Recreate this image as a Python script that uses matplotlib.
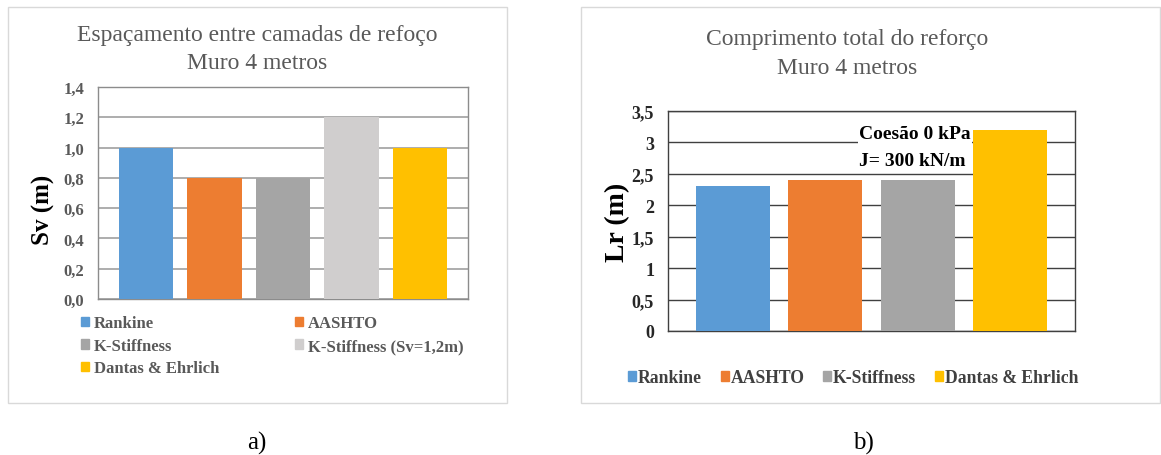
import matplotlib
matplotlib.use("Agg")
import matplotlib.pyplot as plt
from matplotlib.patches import Rectangle, Patch

# ---------------- data ----------------
methods_a = ['Rankine', 'AASHTO', 'K-Stiffness', 'K-Stiffness (Sv=1,2m)', 'Dantas & Ehrlich']
sv_values = [1.0, 0.8, 0.8, 1.2, 1.0]
colors_a = ['#5B9BD5', '#ED7D31', '#A5A5A5', '#D0CECE', '#FFC000']
sv_ticks = [0.0, 0.2, 0.4, 0.6, 0.8, 1.0, 1.2, 1.4]
sv_ticklabels = ['0,0', '0,2', '0,4', '0,6', '0,8', '1,0', '1,2', '1,4']

methods_b = ['Rankine', 'AASHTO', 'K-Stiffness', 'Dantas & Ehrlich']
lr_values = [2.3, 2.4, 2.4, 3.2]
colors_b = ['#5B9BD5', '#ED7D31', '#A5A5A5', '#FFC000']
lr_ticks = [0, 0.5, 1, 1.5, 2, 2.5, 3, 3.5]
lr_ticklabels = ['0', '0,5', '1', '1,5', '2', '2,5', '3', '3,5']

title_a = 'Espaçamento entre camadas de refoço\nMuro 4 metros'
title_b = 'Comprimento total do reforço\nMuro 4 metros'
note_b = 'Coesão 0 kPa\nJ= 300 kN/m'

W, H = 1161, 456
plt.rcParams['font.family'] = ['Liberation Serif', 'DejaVu Serif']
fig = plt.figure(figsize=(W / 100, H / 100), dpi=100)
fig.patch.set_facecolor('white')


def box(x0, y0, x1, y1):
    return [x0 / W, 1 - y1 / H, (x1 - x0) / W, (y1 - y0) / H]


# outer frames of the two charts
for (x0, y0, x1, y1) in [(8, 8, 507, 404), (581, 8, 1160, 404)]:
    fig.add_artist(Rectangle((x0 / W, 1 - y1 / H), (x1 - x0) / W, (y1 - y0) / H,
                             transform=fig.transFigure, fill=False,
                             edgecolor='#D9D9D9', linewidth=1.0))

# ---------------- chart a ----------------
axa = fig.add_axes(box(98, 88, 468, 300))
xa = list(range(len(methods_a)))
axa.bar(xa, sv_values, width=0.79, color=colors_a, zorder=3)
axa.set_xlim(-0.70, len(methods_a) - 0.30)
axa.set_ylim(0, 1.4)
axa.set_yticks(sv_ticks)
axa.set_yticklabels(sv_ticklabels, fontsize=12, fontweight='bold', color='#595959')
axa.set_xticks([])
axa.tick_params(axis='y', length=0, pad=10)
axa.grid(axis='y', color='#A0A0A0', linewidth=1.2, zorder=0)
for s in axa.spines.values():
    s.set_color('#8C8C8C')
    s.set_linewidth(1.0)
axa.set_ylabel('Sv (m)', fontsize=18, fontweight='bold', color='black')
axa.yaxis.label.set_va('center')
axa.yaxis.set_label_coords(-0.148, 0.425)

fig.text(257 / W, 1 - 49.5 / H, title_a, ha='center', va='center',
         fontsize=17, color='#595959', linespacing=1.4)

order = [0, 2, 4, 1, 3]
handles_a = [Patch(color=colors_a[i]) for i in order]
labels_a = [methods_a[i] for i in order]
fig.legend(handles_a, labels_a, loc='upper left',
           bbox_to_anchor=(81 / W, 1 - 316.5 / H), ncol=2, frameon=False,
           prop={'family': 'Liberation Serif', 'weight': 'bold', 'size': 12},
           labelcolor='#595959', handlelength=0.48, handleheight=0.48,
           handletextpad=0.3, labelspacing=0.39, columnspacing=4.55,
           borderpad=0, borderaxespad=0)

fig.text(257 / W, 1 - 443 / H, 'a)', ha='center', va='center', fontsize=18)

# ---------------- chart b ----------------
axb = fig.add_axes(box(668, 112, 1075, 332))
xb = list(range(len(methods_b)))
axb.bar(xb, lr_values, width=0.8, color=colors_b, zorder=3)
axb.set_xlim(-0.70, len(methods_b) - 0.30)
axb.set_ylim(0, 3.5)
axb.set_yticks(lr_ticks)
axb.set_yticklabels(lr_ticklabels, fontsize=13, fontweight='bold', color='#262626')
axb.set_xticks([])
axb.tick_params(axis='y', length=0, pad=10)
axb.grid(axis='y', color='#404040', linewidth=1.0, zorder=0)
for s in axb.spines.values():
    s.set_color('#404040')
    s.set_linewidth(1.0)
axb.set_ylabel('Lr (m)', fontsize=20, fontweight='bold', color='black')
axb.yaxis.label.set_va('center')
axb.yaxis.set_label_coords(-0.125, 0.5)

axb.text(0.469, 0.836, note_b, transform=axb.transAxes, ha='left', va='center',
         fontsize=14, fontweight='bold', color='black', linespacing=1.75, zorder=5,
         bbox=dict(facecolor='white', edgecolor='none', pad=1))

fig.text(847 / W, 1 - 54 / H, title_b, ha='center', va='center',
         fontsize=17, color='#595959', linespacing=1.46)

handles_b = [Patch(color=c) for c in colors_b]
fig.legend(handles_b, methods_b, loc='center left',
           bbox_to_anchor=(628 / W, 1 - 379 / H), ncol=4, frameon=False,
           prop={'family': 'Liberation Serif', 'weight': 'bold', 'size': 12.7},
           labelcolor='#404040', handlelength=0.45, handleheight=0.45,
           handletextpad=0.12, columnspacing=1.05,
           borderpad=0, borderaxespad=0)

fig.text(863 / W, 1 - 443 / H, 'b)', ha='center', va='center', fontsize=18)

fig.savefig('out.png', dpi=100)
